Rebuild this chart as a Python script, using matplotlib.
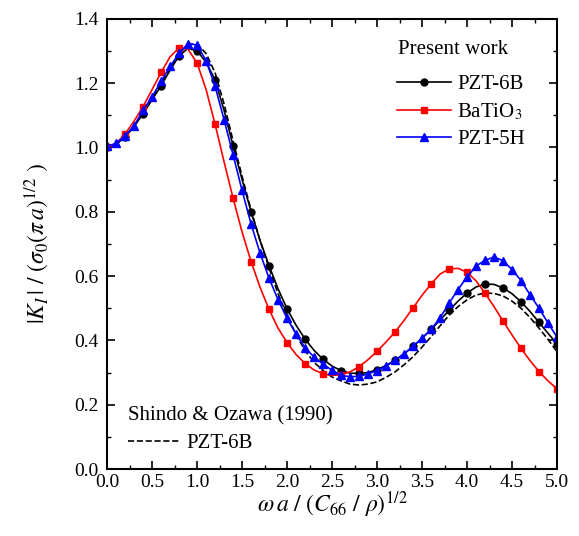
import numpy as np
import matplotlib
matplotlib.use("Agg")
import matplotlib.pyplot as plt
from matplotlib.ticker import MultipleLocator
from matplotlib.lines import Line2D

plt.rcParams['font.family'] = ['Liberation Serif', 'DejaVu Serif']
plt.rcParams['mathtext.fontset'] = 'stix'

# normalised frequency, step 0.1
freq = np.round(np.arange(0, 51) * 0.1, 1)

pzt6b = [1.000, 1.010, 1.033, 1.065, 1.105, 1.148, 1.192, 1.240, 1.285, 1.308,
         1.300, 1.265, 1.210, 1.115, 1.005, 0.900, 0.800, 0.710, 0.632, 0.560,
         0.498, 0.447, 0.404, 0.369, 0.341, 0.320, 0.306, 0.298, 0.297, 0.300,
         0.309, 0.322, 0.338, 0.358, 0.381, 0.406, 0.434, 0.463, 0.493, 0.522,
         0.547, 0.566, 0.575, 0.574, 0.563, 0.545, 0.520, 0.490, 0.456, 0.422,
         0.389]

batio3 = [1.000, 1.012, 1.042, 1.082, 1.127, 1.180, 1.233, 1.282, 1.310, 1.305,
          1.262, 1.180, 1.072, 0.955, 0.842, 0.737, 0.645, 0.565, 0.496, 0.438,
          0.393, 0.356, 0.328, 0.308, 0.296, 0.291, 0.293, 0.302, 0.318, 0.340,
          0.366, 0.395, 0.426, 0.462, 0.501, 0.540, 0.575, 0.606, 0.622, 0.624,
          0.612, 0.585, 0.547, 0.505, 0.460, 0.417, 0.375, 0.337, 0.303, 0.274,
          0.249]

pzt5h = [1.003, 1.013, 1.035, 1.068, 1.115, 1.158, 1.205, 1.252, 1.292, 1.323,
         1.318, 1.270, 1.190, 1.086, 0.977, 0.866, 0.762, 0.671, 0.593, 0.526,
         0.468, 0.420, 0.377, 0.348, 0.326, 0.307, 0.291, 0.287, 0.288, 0.296,
         0.306, 0.320, 0.338, 0.358, 0.382, 0.407, 0.434, 0.470, 0.515, 0.558,
         0.597, 0.631, 0.649, 0.659, 0.648, 0.620, 0.586, 0.542, 0.500, 0.454,
         0.410]

shindo = [1.000, 1.010, 1.033, 1.066, 1.107, 1.152, 1.198, 1.247, 1.292, 1.320,
          1.322, 1.292, 1.232, 1.135, 1.020, 0.910, 0.805, 0.710, 0.625, 0.545,
          0.478, 0.418, 0.368, 0.332, 0.306, 0.286, 0.274, 0.264, 0.261, 0.264,
          0.271, 0.285, 0.302, 0.324, 0.349, 0.379, 0.411, 0.445, 0.478, 0.505,
          0.526, 0.541, 0.547, 0.546, 0.538, 0.522, 0.500, 0.471, 0.438, 0.403,
          0.365]

fig = plt.figure(figsize=(5.79, 5.36), dpi=100)
ax = fig.add_axes([0.185, 0.125, 0.777, 0.84])

ax.plot(freq, shindo, color='black', linestyle='--', linewidth=1.2)
l1, = ax.plot(freq, pzt6b, color='black', marker='o', markersize=5, linewidth=1.2,
              markevery=2, label='PZT-6B')
l2, = ax.plot(freq, batio3, color='#ff0000', marker='s', markersize=5, linewidth=1.2,
              markevery=2, label='BaTiO$_3$')
l3, = ax.plot(freq, pzt5h, color='#0000ff', marker='^', markersize=6, linewidth=1.2,
              label='PZT-5H')

ax.set_xlim(0, 5)
ax.set_ylim(0, 1.4)
ax.xaxis.set_major_locator(MultipleLocator(0.5))
ax.xaxis.set_minor_locator(MultipleLocator(0.25))
ax.yaxis.set_major_locator(MultipleLocator(0.2))
ax.yaxis.set_minor_locator(MultipleLocator(0.1))
ax.xaxis.set_major_formatter(plt.FormatStrFormatter('%.1f'))
ax.yaxis.set_major_formatter(plt.FormatStrFormatter('%.1f'))
ax.tick_params(which='both', direction='in', top=True, right=True, labelsize=14)
ax.tick_params(axis='y', pad=6)
ax.tick_params(which='major', length=6, width=1.2)
ax.tick_params(which='minor', length=3, width=1.0)
for s in ax.spines.values():
    s.set_linewidth(1.5)

ax.set_xlabel(r'$\omega\, a\ /\ (C_{66}\ /\ \rho)^{1/2}$', fontsize=17, labelpad=-1)
ax.set_ylabel(r'$|K_I\,|\ /\ (\sigma_0(\pi\, a)^{1/2}\ )$', fontsize=17, labelpad=16)

# legend of present results
ax.text(0.647, 0.931, 'Present work', transform=ax.transAxes, fontsize=15,
        ha='left', va='center')
leg1 = ax.legend(handles=[l1, l2, l3], loc='upper left', frameon=False,
                 fontsize=15, handlelength=2.6, handletextpad=0.3,
                 labelspacing=0.35, borderpad=0, borderaxespad=0,
                 bbox_to_anchor=(0.644, 0.876))
ax.add_artist(leg1)

# legend of reference solution
ax.text(0.047, 0.117, 'Shindo & Ozawa (1990)', transform=ax.transAxes,
        fontsize=15, ha='left', va='center')
dash = Line2D([], [], color='black', linestyle='--', linewidth=1.2)
ax.legend(handles=[dash], labels=['PZT-6B'], loc='upper left', frameon=False,
          fontsize=15, handlelength=2.5, handletextpad=0.3, borderpad=0,
          borderaxespad=0, bbox_to_anchor=(0.047, 0.078))

fig.savefig('out.png', dpi=100)
